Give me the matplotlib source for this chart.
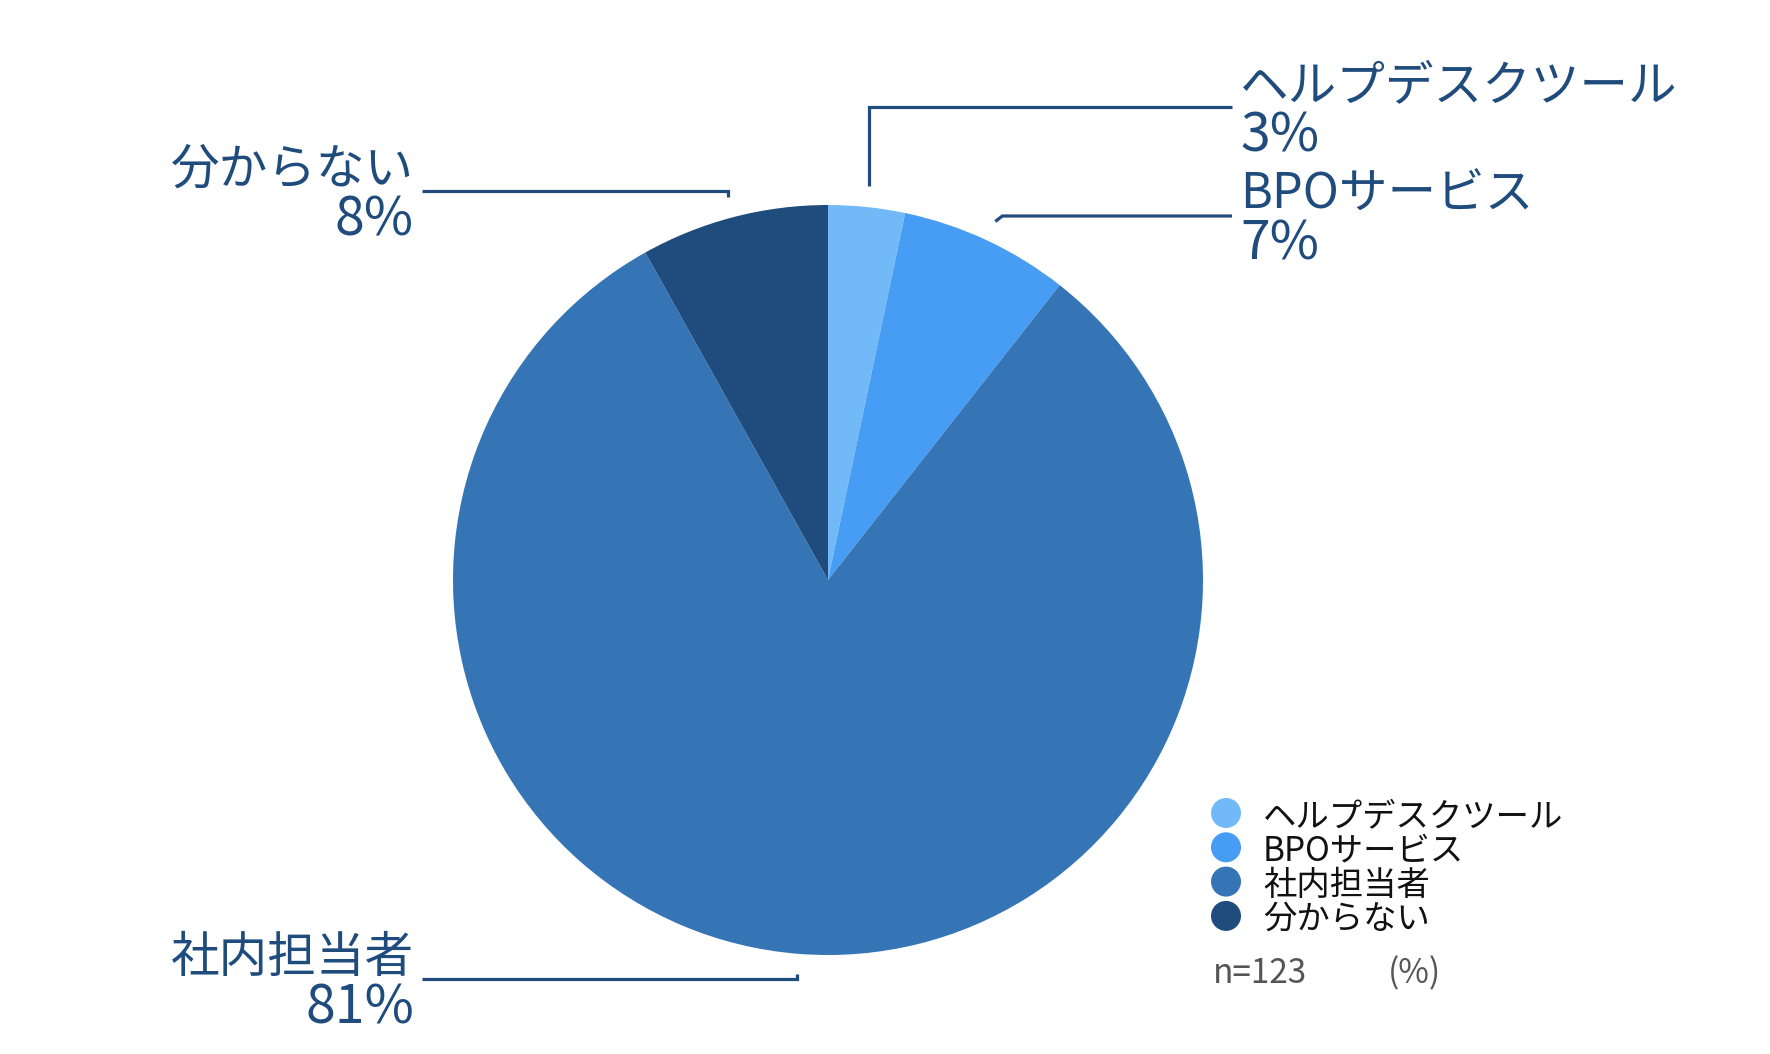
import matplotlib
matplotlib.use("Agg")
import matplotlib.pyplot as plt
import numpy as np

plt.rcParams['font.family'] = ['Noto Sans CJK JP', 'DejaVu Sans']

# ---- data ----
categories = ["ヘルプデスクツール", "BPOサービス", "社内担当者", "分からない"]
values = [3.3, 7.3, 81.3, 8.1]
pct_labels = ["3%", "7%", "81%", "8%"]
colors = ["#72BAF7", "#479DF4", "#3574B5", "#1F4C7D"]
note_n = "n=123"
note_unit = "(%)"

TEXT_C = "#1F4C7D"
W, H = 1770, 1054

fig = plt.figure(figsize=(W / 100, H / 100), dpi=100)
ax = fig.add_axes([0, 0, 1, 1])

def Y(y_img):
    return H - y_img

cx, cy, R = 828, Y(580), 375
wedges, _ = ax.pie(values, colors=colors, startangle=90, counterclock=False,
                   center=(cx, cy), radius=R, wedgeprops=dict(linewidth=0))
ax.set_xlim(0, W)
ax.set_ylim(0, H)
ax.axis('off')

# label layout (image pixel coords), order follows categories
leader_y = [107, 216, 979, 191]
side = [1, 1, -1, -1]
elbow_dx = [0, 7, 0, 0]
line_end_x = {1: 1232, -1: 422}
text_x = {1: 1240, -1: 414}
fs = 35
fs_pct = 38.5

for i, w in enumerate(wedges):
    mid = np.deg2rad((w.theta1 + w.theta2) / 2)
    sx = cx + 1.055 * R * np.cos(mid)
    sy = cy + 1.055 * R * np.sin(mid)
    ly = Y(leader_y[i])
    ex = sx + elbow_dx[i]
    ax.plot([sx, ex, line_end_x[side[i]]], [sy, ly, ly],
            color=TEXT_C, lw=2.3, solid_capstyle='butt', solid_joinstyle='miter')
    ha = 'left' if side[i] > 0 else 'right'
    ax.text(text_x[side[i]], Y(leader_y[i] - 7), categories[i], ha=ha,
            va='baseline', fontsize=fs, color=TEXT_C)
    ax.text(text_x[side[i]], Y(leader_y[i] + 44), pct_labels[i], ha=ha,
            va='baseline', fontsize=fs_pct, color=TEXT_C)

# legend (manual)
leg_x, leg_y0, leg_dy = 1226, 813, 34.3
for i, c in enumerate(categories):
    yy = leg_y0 + i * leg_dy
    ax.scatter([leg_x], [Y(yy)], s=(30 * 0.72) ** 2, color=colors[i],
               edgecolors='none', zorder=5)
    ax.text(1263, Y(yy + 13), c, ha='left', va='baseline',
            fontsize=24, color='#111111')

ax.text(1213, Y(983), note_n, ha='left', va='baseline', fontsize=24, color='#555555')
ax.text(1388, Y(983), note_unit, ha='left', va='baseline', fontsize=24, color='#555555')

fig.savefig("out.png", dpi=100, facecolor='white')
